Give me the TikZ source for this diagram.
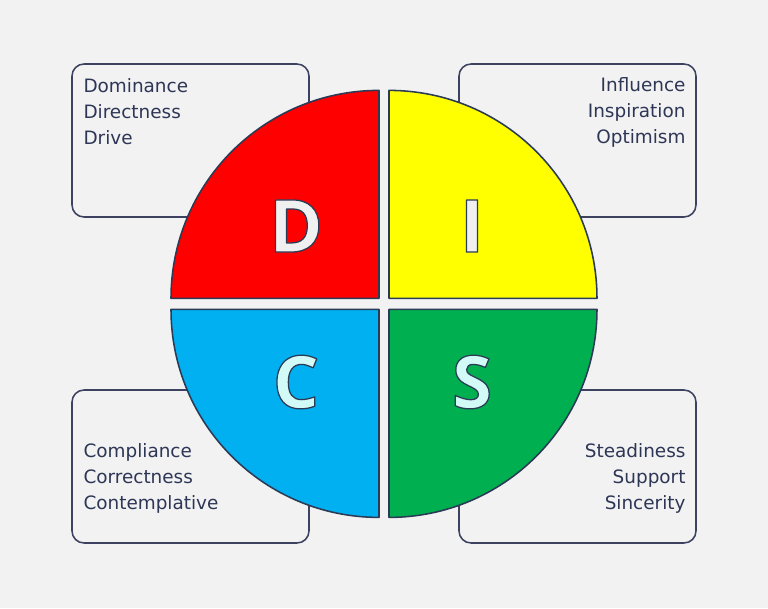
\documentclass[tikz,border=0pt]{standalone}
\usepackage{fontspec}
\setmainfont{DejaVu Sans}
\newfontfamily\letterfont{Open Sans}
\definecolor{bgcol}{HTML}{F2F2F2}
\definecolor{discline}{HTML}{2B3A55}
\definecolor{boxline}{HTML}{3C4260}
\definecolor{txtcol}{HTML}{2E3656}
\definecolor{dred}{HTML}{FF0000}
\definecolor{iyellow}{HTML}{FFFF00}
\definecolor{cblue}{HTML}{00B0F0}
\definecolor{sgreen}{HTML}{00B050}
\definecolor{letfill}{HTML}{F0F0F0}
\definecolor{letcyan}{HTML}{D2FAF6}
% letter filled with the text colour and stroked with the line colour
\newcommand\outlined[1]{\special{pdf:code q 2 Tr 0.9 w 0.169 0.227 0.333 RG}#1\special{pdf:code Q}}

\begin{document}
\begin{tikzpicture}[line cap=round,line join=round,
  trait box/.style={draw=boxline,line width=1.1pt,rounded corners=0.3cm,
    minimum width=5.925cm,minimum height=3.825cm,inner sep=0pt},
  trait text/.style={text=txtcol,inner sep=0pt,font=\fontsize{13.1}{18.5}\selectfont},
  quad/.style={draw=discline,line width=1.1pt},
  quad letter/.style={font=\letterfont\bfseries\fontsize{52}{52}\selectfont,inner sep=0pt}]
\fill[bgcol] (-9.6,-7.6) rectangle (9.6,7.6);
\useasboundingbox (-9.6,-7.6) rectangle (9.6,7.6);
% boxes behind the circle
\node[trait box] (boxD) at (-4.8375,4.0875) {};
\node[trait box] (boxI) at (4.8375,4.0875) {};
\node[trait box] (boxC) at (-4.8375,-4.0625) {};
\node[trait box] (boxS) at (4.8375,-4.0625) {};
\node[trait text,anchor=west,align=left] (txtD) at ([xshift=0.3cm,yshift=0.7125cm]boxD.west)
  {Dominance\\Directness\\Drive};
\node[trait text,anchor=east,align=right] (txtI) at ([xshift=-0.275cm,yshift=0.7125cm]boxI.east)
  {Influence\\Inspiration\\Optimism};
\node[trait text,anchor=west,align=left] (txtC) at ([xshift=0.3cm,yshift=-0.2875cm]boxC.west)
  {Compliance\\Correctness\\Contemplative};
\node[trait text,anchor=east,align=right] (txtS) at ([xshift=-0.275cm,yshift=-0.2875cm]boxS.east)
  {Steadiness\\Support\\Sincerity};
% four quadrants
\draw[quad,fill=dred] (-0.125,0.14) -- ++(-5.2,0) arc (180:90:5.2) -- cycle;
\draw[quad,fill=iyellow] (0.125,0.14) -- ++(0,5.2) arc (90:0:5.2) -- cycle;
\draw[quad,fill=cblue] (-0.125,-0.135) -- ++(0,-5.2) arc (270:180:5.2) -- cycle;
\draw[quad,fill=sgreen] (0.125,-0.135) -- ++(5.2,0) arc (0:-90:5.2) -- cycle;
% letters
\node[quad letter,text=letfill] (letD) at (-2.2,1.95) {\outlined{D}};
\node[quad letter,text=letfill] (letI) at (2.2,1.95) {\outlined{I}};
\node[quad letter,text=letcyan] (letC) at (-2.2,-1.95) {\outlined{C}};
\node[quad letter,text=letcyan] (letS) at (2.2,-1.95) {\outlined{S}};
\end{tikzpicture}
\end{document}
